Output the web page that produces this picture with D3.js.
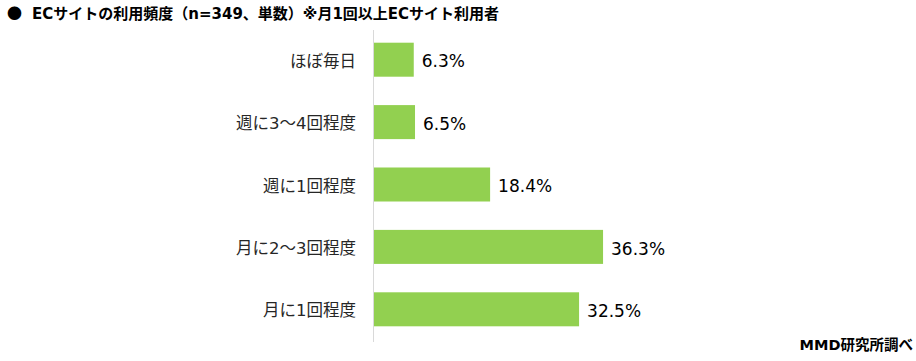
<!DOCTYPE html>
<html><head><meta charset="utf-8">
<script src="https://cdn.jsdelivr.net/npm/d3@7"></script>
<style>body{margin:0;background:#fff;}svg{display:block;}</style>
</head><body>
<svg id="c" width="916" height="361"></svg>
<script>
const categories = ["ほぼ毎日","週に3～4回程度","週に1回程度","月に2～3回程度","月に1回程度"];
const values = [6.3, 6.5, 18.4, 36.3, 32.5];
const titleText = "ECサイトの利用頻度（n=349、単数）※月1回以上ECサイト利用者";
const sourceText = "MMD研究所調べ";

const svg = d3.select("#c");
const font = "'DejaVu Sans', 'Noto Sans CJK JP', sans-serif";
const x = d3.scaleLinear().domain([0, 40]).range([374, 374 + 252.4]);
const y = d3.scaleBand().domain(categories).range([28.5, 340.5]).paddingInner(0.455).paddingOuter(0.2275);

svg.append("text").attr("x", 7).attr("y", 18.5).attr("font-family", "'Noto Sans CJK JP', sans-serif").attr("font-size", 15).attr("font-weight", "bold").attr("fill", "#000").text("●");
svg.append("text").attr("x", 32).attr("y", 18.5).attr("font-family", font).attr("font-size", 15).attr("font-weight", "bold").attr("fill", "#000").text(titleText);

svg.selectAll("rect.bar").data(values).enter().append("rect")
  .attr("class","bar")
  .attr("x", x(0))
  .attr("y", (d,i) => y(categories[i]))
  .attr("width", d => x(d) - x(0))
  .attr("height", y.bandwidth())
  .attr("fill", "#92d050");

svg.append("line").attr("x1", 373.5).attr("x2", 373.5).attr("y1", 30).attr("y2", 342).attr("stroke", "#d9d9d9").attr("stroke-width", 1);

svg.selectAll("text.cat").data(categories).enter().append("text")
  .attr("class","cat")
  .attr("x", 356)
  .attr("y", d => y(d) + y.bandwidth()/2 + 7)
  .attr("text-anchor", "end")
  .attr("font-family", font).attr("font-size", 16.5).attr("fill", "#262626")
  .text(d => d);

svg.selectAll("text.val").data(values).enter().append("text")
  .attr("class","val")
  .attr("x", d => x(d) + 8)
  .attr("y", (d,i) => y(categories[i]) + y.bandwidth()/2 + 7.7)
  .attr("font-family", font).attr("font-size", 17).attr("fill", "#000")
  .text(d => d.toFixed(1) + "%");

svg.append("text").attr("x", 913).attr("y", 349.5).attr("text-anchor","end").attr("font-family", font).attr("font-size", 14.5).attr("font-weight", "bold").attr("fill", "#000").text(sourceText);
</script>
</body></html>
